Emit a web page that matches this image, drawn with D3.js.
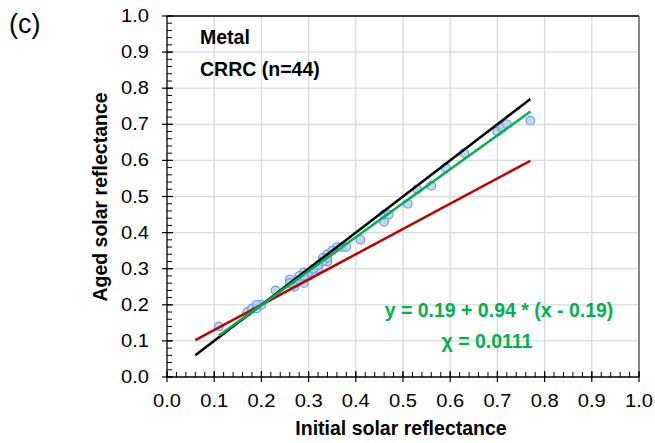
<!DOCTYPE html>
<html><head><meta charset="utf-8">
<script src="https://cdn.jsdelivr.net/npm/d3@7"></script>
<style>body{margin:0;background:#fff;}svg{display:block;font-family:Arial,"Liberation Sans",sans-serif;}</style>
</head><body>
<svg id="c" width="655" height="443"></svg>
<script>
const initialX = [0.11,0.17,0.18,0.19,0.20,0.19,0.23,0.26,0.27,0.27,0.29,0.29,0.30,0.31,0.32,0.33,0.34,0.34,0.36,0.37,0.38,0.41,0.46,0.46,0.47,0.51,0.53,0.56,0.59,0.63,0.70,0.71,0.72,0.77,0.28,0.30,0.31,0.33,0.35,0.26,0.28,0.29,0.32,0.34];
const agedY   = [0.14,0.18,0.19,0.19,0.20,0.20,0.24,0.27,0.26,0.25,0.29,0.26,0.28,0.29,0.30,0.33,0.34,0.32,0.36,0.36,0.36,0.38,0.43,0.45,0.45,0.48,0.52,0.53,0.58,0.62,0.68,0.69,0.70,0.71,0.27,0.29,0.30,0.32,0.35,0.26,0.28,0.28,0.31,0.33];
const tickVals = [0,0.1,0.2,0.3,0.4,0.5,0.6,0.7,0.8,0.9,1.0];
const lineRange = [0.06, 0.77];
const fitRange = [0.11, 0.77];
const fitParams = [0.19, 0.94, 0.19];   // y = a + b*(x - c)
const modelParams = [0.2, 0.7, 0.2];    // CRRC prediction
const labels = {panel:"(c)", t1:"Metal", t2:"CRRC (n=44)", eq:"y = 0.19 + 0.94 * (x - 0.19)", chi:"χ = 0.0111", xt:"Initial solar reflectance", yt:"Aged solar reflectance"};

const svg = d3.select("#c");
const L=167, R=639, T=16, B=377;
const x = d3.scaleLinear().domain([0,1]).range([L,R]);
const y = d3.scaleLinear().domain([0,1]).range([B,T]);

// grid
const g = svg.append("g");
g.selectAll(".vg").data(tickVals.slice(1)).join("line")
 .attr("x1",d=>x(d)).attr("x2",d=>x(d)).attr("y1",T).attr("y2",B)
 .attr("stroke","#d9d9d9").attr("stroke-width",1.3);
g.selectAll(".hg").data(tickVals.slice(1)).join("line")
 .attr("y1",d=>y(d)).attr("y2",d=>y(d)).attr("x1",L).attr("x2",R)
 .attr("stroke","#d9d9d9").attr("stroke-width",1.3);

// frame
svg.append("line").attr("x1",L).attr("x2",R).attr("y1",T).attr("y2",T).attr("stroke","#000").attr("stroke-width",1.5);
svg.append("line").attr("x1",R).attr("x2",R).attr("y1",T).attr("y2",B).attr("stroke","#666").attr("stroke-width",1.5);

// axes
const minor = d3.range(0,1.0001,0.02);
const xa = svg.append("g");
xa.append("line").attr("x1",L).attr("x2",R).attr("y1",B).attr("y2",B).attr("stroke","#000").attr("stroke-width",1.3);
xa.selectAll(".mn").data(minor).join("line")
 .attr("x1",d=>x(d)).attr("x2",d=>x(d)).attr("y1",B-5).attr("y2",B).attr("stroke","#000").attr("stroke-width",1);
xa.selectAll(".mj").data(tickVals).join("line")
 .attr("x1",d=>x(d)).attr("x2",d=>x(d)).attr("y1",B-6).attr("y2",B+5).attr("stroke","#000").attr("stroke-width",1.2);
xa.selectAll("text").data(tickVals).join("text")
 .attr("transform",d=>`translate(${x(d)},407) scale(1.15,1)`).attr("text-anchor","middle").attr("font-size",17.5).text(d=>d.toFixed(1));

const ya = svg.append("g");
ya.append("line").attr("x1",L).attr("x2",L).attr("y1",T).attr("y2",B).attr("stroke","#000").attr("stroke-width",1.3);
ya.selectAll(".mn").data(minor).join("line")
 .attr("y1",d=>y(d)).attr("y2",d=>y(d)).attr("x1",L).attr("x2",L+5).attr("stroke","#000").attr("stroke-width",1);
ya.selectAll(".mj").data(tickVals).join("line")
 .attr("y1",d=>y(d)).attr("y2",d=>y(d)).attr("x1",L-5).attr("x2",L+6).attr("stroke","#000").attr("stroke-width",1.2);
ya.selectAll("text").data(tickVals).join("text")
 .attr("transform",d=>`translate(149,${y(d)+6}) scale(1.15,1)`).attr("text-anchor","end").attr("font-size",17.5).text(d=>d.toFixed(1));

// points
const pts = initialX.map((v,i)=>[v,agedY[i]]);
svg.append("g").selectAll("circle").data(pts).join("circle")
 .attr("cx",d=>x(d[0])).attr("cy",d=>y(d[1])).attr("r",4.3)
 .attr("fill","#b4cdf0").attr("fill-opacity",0.8).attr("stroke","#6f9fe0").attr("stroke-width",1.2);

// lines
const line = d3.line().x(d=>x(d[0])).y(d=>y(d[1]));
const f = (p,v)=>p[0]+p[1]*(v-p[2]);
svg.append("path").attr("d",line(lineRange.map(v=>[v,f(modelParams,v)]))).attr("stroke","#c00000").attr("stroke-width",2.5).attr("fill","none");
svg.append("path").attr("d",line(lineRange.map(v=>[v,v]))).attr("stroke","#000").attr("stroke-width",2.5).attr("fill","none");
svg.append("path").attr("d",line(fitRange.map(v=>[v,f(fitParams,v)]))).attr("stroke","#00b050").attr("stroke-width",2.5).attr("fill","none");

// texts
svg.append("text").attr("x",9).attr("y",33).attr("font-size",27).text(labels.panel);
svg.append("text").attr("x",200).attr("y",44).attr("font-size",19.5).attr("font-weight","bold").text(labels.t1);
svg.append("text").attr("x",200).attr("y",76).attr("font-size",19.5).attr("font-weight","bold").text(labels.t2);
svg.append("text").attr("x",499).attr("y",317).attr("text-anchor","middle").attr("font-size",19.5).attr("font-weight","bold").attr("fill","#00b050").text(labels.eq);
svg.append("text").attr("x",487).attr("y",348).attr("text-anchor","middle").attr("font-size",19.5).attr("font-weight","bold").attr("fill","#00b050").text(labels.chi);
svg.append("text").attr("x",401).attr("y",435).attr("text-anchor","middle").attr("font-size",19.5).attr("font-weight","bold").text(labels.xt);
svg.append("text").attr("transform","translate(107,197) rotate(-90)").attr("text-anchor","middle").attr("font-size",19.5).attr("font-weight","bold").text(labels.yt);
</script>
</body></html>
